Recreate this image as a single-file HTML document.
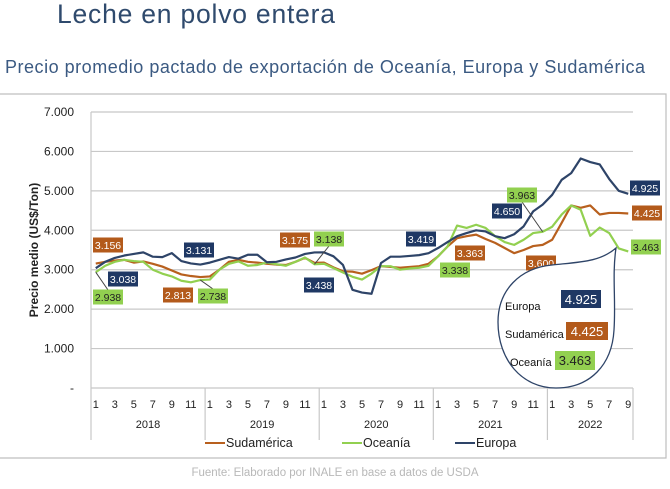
<!DOCTYPE html>
<html><head><meta charset="utf-8"><style>
body{margin:0;background:#fff;width:670px;height:489px;overflow:hidden;font-family:"Liberation Sans",sans-serif}
svg{display:block}
</style></head><body>
<svg id="c" width="670" height="489" viewBox="0 0 670 489" xmlns="http://www.w3.org/2000/svg">
<text x="57" y="23" font-size="26.5" fill="#2f4a6d" font-family="Liberation Sans, sans-serif" textLength="278">Leche en polvo entera</text>
<text x="5" y="73" font-size="18" fill="#3b5a82" font-family="Liberation Sans, sans-serif" textLength="640">Precio promedio pactado de exportación de Oceanía, Europa y Sudamérica</text>
<path d="M0 94 H666 V458 H0" fill="none" stroke="#bfbfbf" stroke-width="1.2"/>
<g id="grid"></g>
<g id="axis"></g>
<g id="lines"></g>
<text transform="translate(38,250) rotate(-90)" text-anchor="middle" font-size="12" font-weight="bold" fill="#222">Precio medio (US$/Ton)</text>
<g id="labels"></g>
<path d="M616 248 C612 275 616 300 614 330 C612 365 590 388 556 388 C522 388 498 360 498 322 C498 290 520 268 552 265 C580 262 600 262 616 248 Z" fill="#fff" stroke="#2e4468" stroke-width="1.3"/>
<g font-size="11" fill="#111">
<text x="505" y="310">Europa</text>
<rect x="561" y="290" width="40" height="18" fill="#1f3864"/>
<text x="581" y="304" text-anchor="middle" fill="#fff" font-size="13">4.925</text>
<text x="505" y="338">Sudamérica</text>
<rect x="566" y="322" width="42" height="18" fill="#b35a1b"/>
<text x="587" y="336" text-anchor="middle" fill="#fff" font-size="13">4.425</text>
<text x="510" y="366">Oceanía</text>
<rect x="555" y="351" width="40" height="19" fill="#92d050"/>
<text x="575" y="365" text-anchor="middle" fill="#222" font-size="13">3.463</text>
</g>
<g font-size="12.5" fill="#222">
<line x1="205" y1="443" x2="225" y2="443" stroke="#b8601e" stroke-width="2"/>
<text x="226" y="447">Sudamérica</text>
<line x1="342" y1="443" x2="362" y2="443" stroke="#92d050" stroke-width="2"/>
<text x="363" y="447">Oceanía</text>
<line x1="455" y1="443" x2="475" y2="443" stroke="#2e4468" stroke-width="2"/>
<text x="476" y="447">Europa</text>
</g>
<text x="335" y="476" text-anchor="middle" font-size="11.5" fill="#b8b8b8">Fuente: Elaborado por INALE en base a datos de USDA</text>
</svg>
<script>
const years = ["2018","2019","2020","2021","2022"];
const yTicks = [0,1000,2000,3000,4000,5000,6000,7000];
const yTickLabels = ["-","1.000","2.000","3.000","4.000","5.000","6.000","7.000"];
const europa = [3038,3200,3300,3360,3400,3440,3330,3320,3420,3220,3160,3131,3180,3250,3320,3280,3380,3380,3190,3200,3260,3310,3400,3438,3440,3340,3120,2490,2420,2390,3170,3330,3330,3350,3370,3419,3550,3700,3850,3930,4000,3970,3850,3800,3900,4100,4480,4650,4900,5280,5450,5820,5730,5670,5300,5000,4925];
const sudamerica = [3156,3200,3230,3250,3180,3210,3150,3080,2980,2880,2840,2813,2830,3000,3200,3250,3200,3180,3150,3130,3120,3200,3300,3175,3180,3060,2960,2950,2900,2990,3090,3070,3050,3070,3090,3150,3340,3590,3800,3850,3890,3780,3680,3550,3420,3500,3600,3630,3760,4190,4630,4570,4630,4400,4440,4440,4425];
const oceania = [2938,3100,3200,3250,3220,3200,3000,2900,2830,2720,2680,2738,2750,3000,3150,3210,3100,3120,3180,3140,3100,3200,3310,3138,3150,3040,2930,2820,2750,2900,3090,3090,3000,3030,3050,3100,3340,3590,4120,4060,4140,4060,3850,3700,3630,3760,3930,3963,4090,4400,4630,4520,3860,4070,3930,3540,3463];
const NS="http://www.w3.org/2000/svg";
const L=91,R=633,T=112,B=388,N=europa.length;
const band=(R-L)/N;
const x=i=>L+(i+0.5)*band;
const y=v=>B-(v/7000)*(B-T);
function mk(tag,attrs,parent,txt){const e=document.createElementNS(NS,tag);for(const k in attrs)e.setAttribute(k,attrs[k]);if(txt!==undefined)e.textContent=txt;document.getElementById(parent).appendChild(e);return e;}
yTicks.forEach((v,k)=>{
  const g=mk('line',{x1:L,x2:R,y1:y(v),y2:y(v),stroke:'#c8c8c8','stroke-width':1.2},'grid');
  
  
  const t=mk('text',{x:74,y:y(v)+4,'text-anchor':'end','font-size':12,fill:'#222'},'grid',yTickLabels[k]);
  
  
});
const ax=mk('line',{x1:L,x2:L,y1:T,y2:440,stroke:'#c8c8c8','stroke-width':1.2},'axis');


for(let i=0;i<N;i++){
  const m=(i%12)+1;
  if(m%2===1){
    const t=mk('text',{x:x(i),y:408,'text-anchor':'middle','font-size':11,fill:'#222'},'axis',String(m));
    
    
  }
}
years.forEach((yr,k)=>{
  const s=k*12,e=Math.min(N,(k+1)*12);
  const sep=mk('line',{x1:L+e*band,x2:L+e*band,y1:B,y2:440,stroke:'#c8c8c8','stroke-width':1.2},'axis');
  
  
  const t=mk('text',{x:L+(s+e)/2*band,y:428,'text-anchor':'middle','font-size':11,fill:'#222'},'axis',yr);
  
  
});
function series(arr,color,name){
  const p=mk('polyline',{points:arr.map((v,i)=>x(i)+','+y(v)).join(' '),fill:'none',stroke:color,'stroke-width':2.2,'stroke-linejoin':'round'},'lines');
  
  
}
series(sudamerica,'#b8601e','line-sudamerica');
series(oceania,'#92d050','line-oceania');
series(europa,'#2e4468','line-europa');
function lab(arr,i,cx,cy,bg,fg,name,lead,txt){
  if(lead){const l=mk('line',{x1:x(i),y1:y(arr[i]),x2:cx,y2:cy+(cy>y(arr[i])?-7:7),stroke:'#444','stroke-width':1},'labels');
    
    }
  const r=mk('rect',{x:cx-15,y:cy-7.5,width:30,height:15,fill:bg},'labels');
  
  
  const t=mk('text',{x:cx,y:cy+4,'text-anchor':'middle','font-size':10.5,fill:fg},'labels',txt||(arr[i]/1000).toFixed(3));
  
  
}
const NV='#1f3864',OR='#b35a1b',GR='#92d050';
lab(sudamerica,0,108,245,OR,'#fff','label-sud-2018-1');
lab(europa,0,123,279,NV,'#fff','label-eur-2018-1');
lab(oceania,0,108,297,GR,'#222','label-oce-2018-1',true);
lab(sudamerica,11,178,295,OR,'#fff','label-sud-2018-12');
lab(oceania,11,213,296,GR,'#222','label-oce-2018-12',true);
lab(europa,11,199,250,NV,'#fff','label-eur-2018-12');
lab(sudamerica,23,295,240,OR,'#fff','label-sud-2019-12');
lab(oceania,23,329,239,GR,'#222','label-oce-2019-12',true);
lab(europa,23,319,285,NV,'#fff','label-eur-2019-12');
lab(europa,35,421,239,NV,'#fff','label-eur-2020-12');
lab(sudamerica,35,470,253,OR,'#fff','label-sud-2020-12',false,'3.363');
lab(oceania,35,455,270,GR,'#222','label-oce-2020-12',false,'3.338');
lab(oceania,47,522,195,GR,'#222','label-oce-2021-12',true);
lab(europa,47,507,211,NV,'#fff','label-eur-2021-12');
lab(sudamerica,47,541,263,OR,'#fff','label-sud-2021-12',false,'3.600');
lab(europa,56,645,188,NV,'#fff','label-eur-last');
lab(sudamerica,56,647,213,OR,'#fff','label-sud-last');
lab(oceania,56,646,247,GR,'#222','label-oce-last');
</script>
</body></html>
